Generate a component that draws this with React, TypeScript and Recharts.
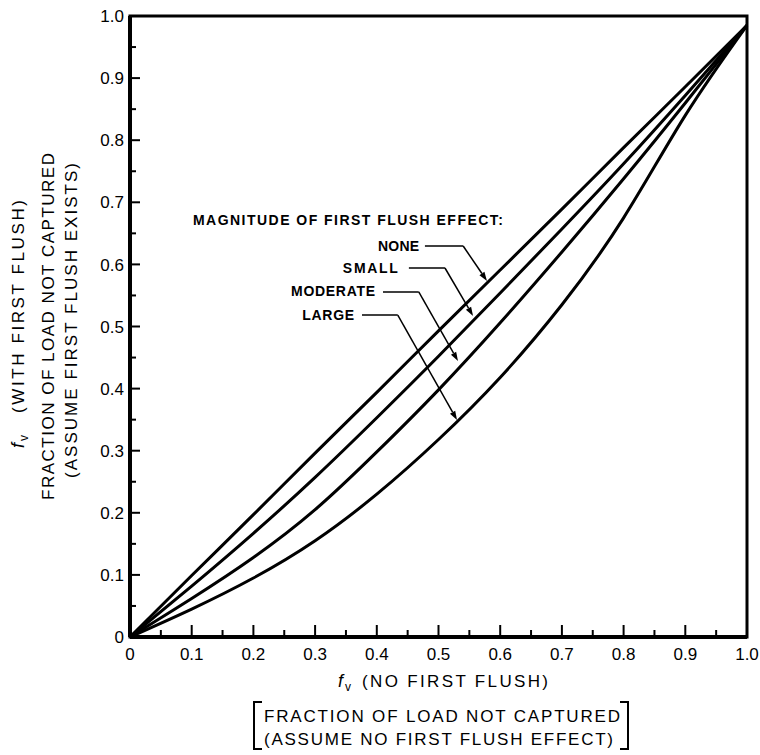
import React from 'react';
import { LineChart, Line, XAxis, YAxis, ReferenceArea, ReferenceLine, ReferenceDot } from 'recharts';

// fraction of load not captured, no first flush (x)
const fvNoFlush = [0, 0.1, 0.2, 0.3, 0.4, 0.5, 0.6, 0.7, 0.8, 0.9, 1.0];
// fraction not captured with first flush, by magnitude
const noneCurve = [0, 0.099, 0.197, 0.296, 0.394, 0.493, 0.591, 0.689, 0.788, 0.886, 0.985];
const smallCurve = [0, 0.082, 0.167, 0.257, 0.353, 0.452, 0.554, 0.657, 0.762, 0.872, 0.985];
const moderateCurve = [0, 0.062, 0.128, 0.205, 0.298, 0.398, 0.506, 0.62, 0.738, 0.86, 0.985];
const largeCurve = [0, 0.045, 0.095, 0.155, 0.23, 0.318, 0.418, 0.535, 0.675, 0.84, 0.985];

const majorTicks = [0, 0.1, 0.2, 0.3, 0.4, 0.5, 0.6, 0.7, 0.8, 0.9, 1.0];
const majorTickLabels = ['0', '0.1', '0.2', '0.3', '0.4', '0.5', '0.6', '0.7', '0.8', '0.9', '1.0'];
const minorTicks = [0.05, 0.15, 0.25, 0.35, 0.45, 0.55, 0.65, 0.75, 0.85, 0.95];
const allTicks = [...majorTicks, ...minorTicks].sort((a, b) => a - b);

const magnitudes = ['NONE', 'SMALL', 'MODERATE', 'LARGE'];

const data = fvNoFlush.map((x, i) => ({
  x,
  none: noneCurve[i],
  small: smallCurve[i],
  moderate: moderateCurve[i],
  large: largeCurve[i],
}));

// callout placement (data units) for each magnitude label
const callouts = [
  { label: 0.402, base: 0.6216, w: 41, start: 0.478, elbow: 0.54, lead: 0.6296, tipX: 0.5786, tipY: 0.5733 },
  { label: 0.345, base: 0.5862, w: 55, start: 0.452, elbow: 0.5105, lead: 0.5942, tipX: 0.556, tipY: 0.5169 },
  { label: 0.261, base: 0.5491, w: 84, start: 0.41, elbow: 0.468, lead: 0.5556, tipX: 0.5316, tipY: 0.4444 },
  { label: 0.279, base: 0.5105, w: 52, start: 0.376, elbow: 0.434, lead: 0.5185, tipX: 0.53, tipY: 0.3494 },
];

const FONT = '"Liberation Sans", Arial, sans-serif';

const labelFor = (v: number) => {
  const i = majorTicks.findIndex((m) => Math.abs(m - v) < 1e-6);
  return i >= 0 ? majorTickLabels[i] : null;
};

const XTick = (props: any) => {
  const { x, y, payload } = props;
  const lab = labelFor(payload.value);
  return (
    <g>
      <line x1={x} y1={y} x2={x} y2={y - (lab ? 12 : 7)} stroke='#000' strokeWidth={2} />
      {lab && (
        <text x={x} y={y + 23} textAnchor='middle' fontSize={17} fontFamily={FONT} fill='#000'>
          {lab}
        </text>
      )}
    </g>
  );
};

const YTick = (props: any) => {
  const { x, y, payload } = props;
  const lab = labelFor(payload.value);
  return (
    <g>
      <line x1={x} y1={y} x2={x + (lab ? 10 : 6)} y2={y} stroke='#000' strokeWidth={2} />
      {lab && (
        <text x={x - 6} y={y} dy='0.36em' textAnchor='end' fontSize={17} fontFamily={FONT} fill='#000'>
          {lab}
        </text>
      )}
    </g>
  );
};

const Arrow = (props: any) => {
  const { x1, y1, x2, y2 } = props;
  const a = Math.atan2(y2 - y1, x2 - x1);
  const len = 9;
  const hw = 3;
  const bx = x2 - len * Math.cos(a);
  const by = y2 - len * Math.sin(a);
  const pts = [
    `${x2},${y2}`,
    `${bx - hw * Math.sin(a)},${by + hw * Math.cos(a)}`,
    `${bx + hw * Math.sin(a)},${by - hw * Math.cos(a)}`,
  ].join(' ');
  return (
    <g>
      <line x1={x1} y1={y1} x2={bx} y2={by} stroke='#000' strokeWidth={1.5} />
      <polygon points={pts} fill='#000' />
    </g>
  );
};

const boldText = (text: string, w: number) => (p: any) => (
  <text
    x={p.cx}
    y={p.cy}
    textLength={w}
    lengthAdjust='spacing'
    fontSize={14}
    fontWeight='bold'
    fontFamily={FONT}
    fill='#000'
  >
    {text}
  </text>
);

const txt = { fontFamily: FONT, fill: '#000' };

const FirstFlushChart: React.FC = () => {
  return (
    <div style={{ position: 'absolute', left: 0, top: 0, width: 760, height: 755, background: '#fff' }}>
      <LineChart width={760} height={755} data={data} margin={{ top: 16, right: 13, bottom: 88, left: 0 }}>
        <XAxis
          dataKey='x'
          type='number'
          domain={[0, 1]}
          ticks={allTicks}
          interval={0}
          tickSize={0}
          tickMargin={0}
          tickLine={false}
          tick={<XTick />}
          height={30}
          axisLine={{ stroke: '#000', strokeWidth: 4 }}
        />
        <YAxis
          type='number'
          domain={[0, 1]}
          ticks={allTicks}
          interval={0}
          tickSize={0}
          tickMargin={0}
          tickLine={false}
          tick={<YTick />}
          width={130}
          axisLine={{ stroke: '#000', strokeWidth: 4 }}
        />
        <ReferenceArea x1={0} x2={1} y1={0} y2={1} fill='none' fillOpacity={0} stroke='#000' strokeWidth={3} />
        <Line dataKey='none' type='natural' stroke='#000' strokeWidth={3} dot={false} isAnimationActive={false} />
        <Line dataKey='small' type='natural' stroke='#000' strokeWidth={3} dot={false} isAnimationActive={false} />
        <Line dataKey='moderate' type='natural' stroke='#000' strokeWidth={3} dot={false} isAnimationActive={false} />
        <Line dataKey='large' type='natural' stroke='#000' strokeWidth={3} dot={false} isAnimationActive={false} />

        <ReferenceDot x={0.102} y={0.6634} r={0} shape={boldText('MAGNITUDE OF FIRST FLUSH EFFECT:', 310)} />
        {callouts.map((c, i) => (
          <ReferenceDot key={'t' + i} x={c.label} y={c.base} r={0} shape={boldText(magnitudes[i], c.w)} />
        ))}
        {callouts.map((c, i) => (
          <ReferenceLine
            key={'h' + i}
            segment={[{ x: c.start, y: c.lead }, { x: c.elbow, y: c.lead }]}
            stroke='#000'
            strokeWidth={1.5}
          />
        ))}
        {callouts.map((c, i) => (
          <ReferenceLine
            key={'a' + i}
            segment={[{ x: c.elbow, y: c.lead }, { x: c.tipX, y: c.tipY }]}
            shape={<Arrow />}
          />
        ))}
      </LineChart>

      <svg width={760} height={755} style={{ position: 'absolute', left: 0, top: 0, pointerEvents: 'none' }}>
        {/* x axis title */}
        <text x={338} y={687} fontSize={18} fontStyle='italic' {...txt}>f</text>
        <text x={345} y={691} fontSize={12} {...txt}>v</text>
        <text x={362} y={687} fontSize={17} textLength={186} lengthAdjust='spacing' {...txt}>(NO FIRST FLUSH)</text>
        <text x={264} y={722} fontSize={17} textLength={356} lengthAdjust='spacing' {...txt}>FRACTION OF LOAD NOT CAPTURED</text>
        <text x={264} y={745} fontSize={17} textLength={349} lengthAdjust='spacing' {...txt}>(ASSUME NO FIRST FLUSH EFFECT)</text>
        <path d='M262,702 L254,702 L254,749 L262,749' stroke='#000' strokeWidth={2} fill='none' />
        <path d='M620,702 L628,702 L628,749 L620,749' stroke='#000' strokeWidth={2} fill='none' />

        {/* y axis title */}
        <g transform='translate(24,448) rotate(-90)'>
          <text x={0} y={0} fontSize={18} fontStyle='italic' {...txt}>f</text>
          <text x={7} y={4} fontSize={12} {...txt}>v</text>
          <text x={35} y={0} fontSize={17} textLength={213} lengthAdjust='spacing' {...txt}>(WITH FIRST FLUSH)</text>
        </g>
        <g transform='translate(54,500) rotate(-90)'>
          <text x={0} y={0} fontSize={17} textLength={347} lengthAdjust='spacing' {...txt}>FRACTION OF LOAD NOT CAPTURED</text>
        </g>
        <g transform='translate(77,478) rotate(-90)'>
          <text x={0} y={0} fontSize={17} textLength={315} lengthAdjust='spacing' {...txt}>(ASSUME FIRST FLUSH EXISTS)</text>
        </g>
      </svg>
    </div>
  );
};

export default function App() {
  return <FirstFlushChart />;
}
